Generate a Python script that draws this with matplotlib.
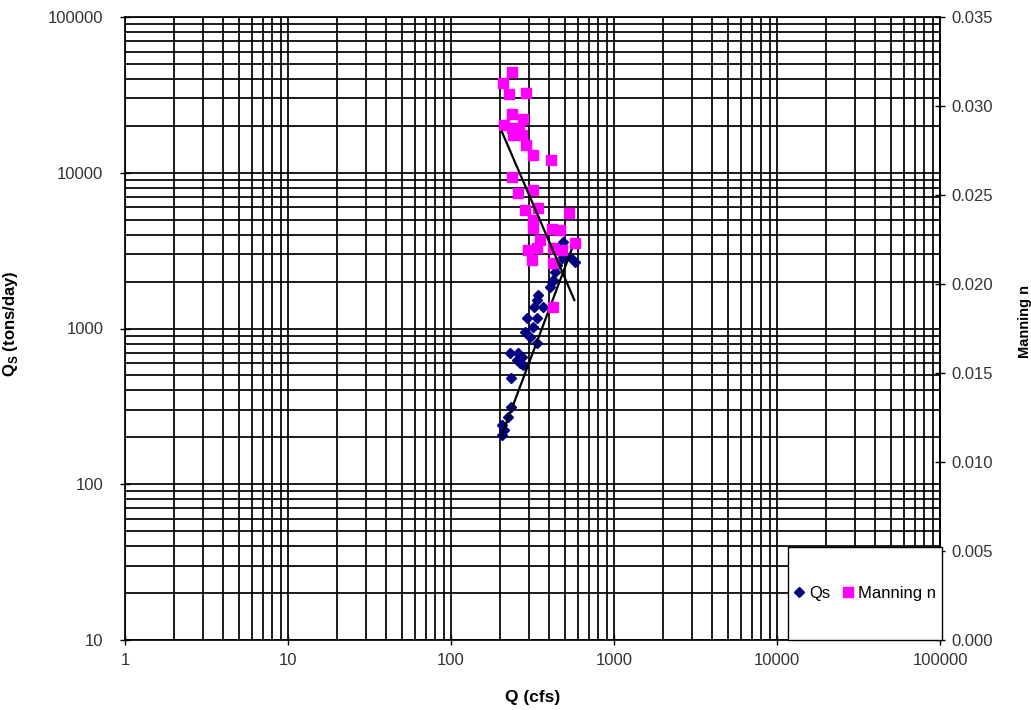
import numpy as np
import matplotlib
matplotlib.use("Agg")
import matplotlib.pyplot as plt
from matplotlib.ticker import FixedLocator, FuncFormatter, NullFormatter
from matplotlib.patches import Rectangle

plt.rcParams['font.family'] = ['Liberation Sans', 'DejaVu Sans']

# Qs (tons/day) vs Q (cfs)
qs_q = [205, 211, 206, 224, 233, 233, 230, 258, 265, 277, 273, 254, 305, 337, 284,
        293, 319, 337, 323, 337, 342, 367, 405, 417, 423, 435, 447, 480, 487, 537, 576]
qs_val = [240, 223, 207, 270, 313, 481, 696, 696, 600, 583, 656, 628, 882, 807, 950,
          1167, 1023, 1167, 1374, 1524, 1641, 1374, 1846, 1990, 2048, 2306, 2559, 2838,
          3590, 2891, 2673]

# Manning n vs Q (cfs)
mn_q = [236, 208, 228, 287, 236, 278, 211, 236, 262, 241, 271, 289, 320, 411, 236,
        259, 320, 284, 343, 532, 320, 320, 415, 466, 352, 298, 335, 313, 424, 478,
        576, 424, 424]
mn_val = [0.0319, 0.0313, 0.0307, 0.03075, 0.02955, 0.02925, 0.02893, 0.02875, 0.02865,
          0.02837, 0.02837, 0.02781, 0.02725, 0.02697, 0.02603, 0.02510, 0.02528, 0.02416,
          0.02425, 0.02397, 0.02360, 0.02313, 0.02307, 0.02303, 0.02247, 0.02191, 0.02200,
          0.02135, 0.02200, 0.02191, 0.02232, 0.02116, 0.01872]

# trendline end values
qs_trend_q = [203, 558]
qs_trend_val = [201, 3350]          # power trendline
mn_trend_q = [205, 571]
mn_trend_val = [0.02856, 0.0191]    # logarithmic trendline

x_ticks = [1, 10, 100, 1000, 10000, 100000]
y_ticks = [10, 100, 1000, 10000, 100000]
n_ticks = [0.000, 0.005, 0.010, 0.015, 0.020, 0.025, 0.030, 0.035]

fig = plt.figure(figsize=(10.31, 7.10), dpi=100)
ax1 = fig.add_axes([125/1031, 1 - 640/710, 815/1031, 623/710])
ax1.set_xscale('log')
ax1.set_yscale('log')
ax1.set_xlim(1, 100000)
ax1.set_ylim(10, 100000)

minors_x = [d * m for d in x_ticks[:-1] for m in range(2, 10)]
minors_y = [d * m for d in y_ticks[:-1] for m in range(2, 10)]
ax1.xaxis.set_major_locator(FixedLocator(x_ticks))
ax1.yaxis.set_major_locator(FixedLocator(y_ticks))
ax1.xaxis.set_minor_locator(FixedLocator(minors_x))
ax1.yaxis.set_minor_locator(FixedLocator(minors_y))
fmt = FuncFormatter(lambda v, p: f"{int(round(v))}")
ax1.xaxis.set_major_formatter(fmt)
ax1.yaxis.set_major_formatter(fmt)
ax1.xaxis.set_minor_formatter(NullFormatter())
ax1.yaxis.set_minor_formatter(NullFormatter())
ax1.grid(True, which='both', color='black', linewidth=1.25)
ax1.set_axisbelow(True)
ax1.tick_params(which='major', direction='inout', length=7, width=1.0, labelsize=12,
                labelcolor='#333333')
ax1.tick_params(axis='y', which='major', pad=12)
ax1.tick_params(axis='x', which='major', pad=6)
ax1.tick_params(which='minor', length=0)
for s in ax1.spines.values():
    s.set_color('black')
    s.set_linewidth(1.25)

ax1.plot(qs_q, qs_val, linestyle='none', marker='D', markersize=5,
         color='#000080', label='Qs', zorder=3)
# power trendline (straight on log-log axes)
ax1.plot(qs_trend_q, qs_trend_val, color='black', linewidth=1.6, zorder=4)

ax1.set_xlabel('Q (cfs)', fontsize=12.5, fontweight='bold')
ax1.set_ylabel('Q$_\\mathregular{S}$ (tons/day)', fontsize=12, fontweight='bold')
ax1.xaxis.set_label_coords(0.5, -0.08)
ax1.yaxis.set_label_coords(-0.1288, 0.507)

ax2 = ax1.twinx()
ax2.set_ylim(0, 0.035)
ax2.yaxis.set_major_locator(FixedLocator(n_ticks))
ax2.yaxis.set_major_formatter(FuncFormatter(lambda v, p: f"{v:.3f}"))
ax2.tick_params(axis='y', direction='inout', length=7, width=1.0, labelsize=12,
                labelcolor='#333333', pad=5)
for s in ax2.spines.values():
    s.set_visible(False)
ax2.spines['right'].set_visible(True)
ax2.spines['right'].set_color('black')
ax2.spines['right'].set_linewidth(1.25)

ax2.plot(mn_q, mn_val, linestyle='none', marker='s', markersize=6.5,
         color='#FF00FF', label='Manning n', zorder=3)
# logarithmic trendline (straight on log-x / linear-y axes)
ax2.plot(mn_trend_q, mn_trend_val, color='black', linewidth=1.6, zorder=4)
ax2.set_ylabel('Manning n', fontsize=10.5, fontweight='bold', va='center', ha='center')
ax2.yaxis.set_label_coords(1.1043, 0.512)

# legend box
rect = Rectangle((0.8135, 0.0), 0.189, 0.149, transform=ax2.transAxes,
                 facecolor='white', edgecolor='black', linewidth=1.0,
                 zorder=10, clip_on=False)
ax2.add_patch(rect)
h1 = ax1.lines[0]
h2 = ax2.lines[0]
leg = ax2.legend([h1, h2], ['Qs', 'Manning n'], ncol=2, loc='center',
                 bbox_to_anchor=(0.8135 + 0.189 / 2, 0.075), frameon=False,
                 fontsize=12, handlelength=0.6, handletextpad=0.3, columnspacing=0.8,
                 borderpad=0.2)
leg.set_zorder(11)

fig.savefig('out.png', dpi=100)
